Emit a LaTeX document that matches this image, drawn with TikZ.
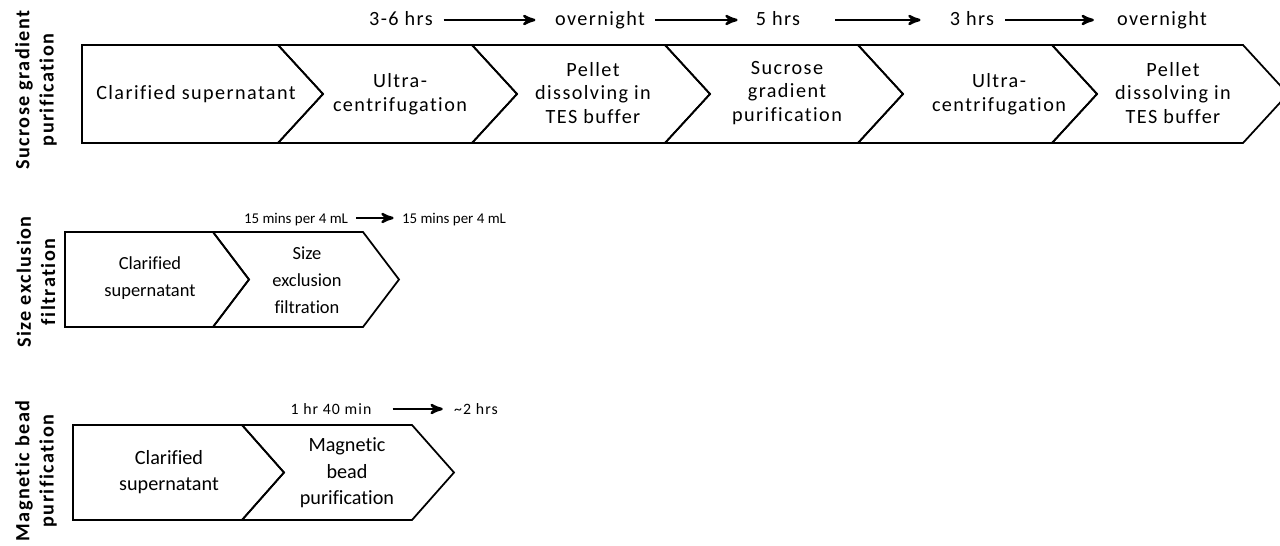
\documentclass[tikz,border=0pt]{standalone}
\usepackage{fontspec}
\setmainfont{Carlito}[LetterSpace=7, Ligatures=CommonOff]
\newfontfamily\tightfont{Carlito}[Ligatures=CommonOff]
\usetikzlibrary{arrows}
\tikzset{
	x=0.02cm, y=-0.02cm,
	>=stealth',
	chev/.style={draw, line width=1pt, line join=miter},
	stage/.style={align=center, font=\fontsize{11.5}{13.5}\selectfont},
	stagetwo/.style={align=center, font=\tightfont\fontsize{10.5}{15.3}\selectfont},
	stagethree/.style={align=center, font=\tightfont\fontsize{11.5}{15}\selectfont},
	side/.style={rotate=90, align=center, font=\fontsize{11.5}{13.7}\selectfont\bfseries},
	time/.style={font=\fontsize{11.5}{13.5}\selectfont, inner sep=2pt, text height=1.5ex, text depth=0.25ex},
	timetwo/.style={time, font=\tightfont\fontsize{8.5}{10}\selectfont},
	timethree/.style={time, font=\fontsize{9}{10}\selectfont},
	flow/.style={->, line width=1.4pt, shorten <=4pt, shorten >=9pt}
}
\begin{document}
\begin{tikzpicture}
	\useasboundingbox (0,0) rectangle (1280,546);

	% side titles
	\node[side] (lab1) at (36,90) {Sucrose gradient\\purification};
	\node[side] (lab2) at (36,282) {Size exclusion\\filtration};
	\node[side] (lab3) at (36,471) {Magnetic bead\\purification};

	% sucrose gradient row
	\draw[chev] (82,45) -- (278,45) -- (323,94) -- (278,143) -- (82,143) -- cycle;
	\foreach \a/\b in {278/472, 472/665, 665/858, 858/1052, 1052/1243}
		\draw[chev] (\a,45) -- (\b,45) -- (\b+45,94) -- (\b,143) -- (\a,143) -- (\a+45,94) -- cycle;

	\node[stage] (sg1) at (196,94) {Clarified supernatant};
	\node[stage] (sg2) at (400,94) {Ultra-\\centrifugation};
	\node[stage] (sg3) at (593,93) {Pellet\\dissolving in\\TES buffer};
	\node[stage] (sg4) at (787,93) {Sucrose\\gradient\\purification};
	\node[stage] (sg5) at (999,94) {Ultra-\\centrifugation};
	\node[stage] (sg6) at (1173,93) {Pellet\\dissolving in\\TES buffer};

	\node[time] (t1) at (401,20) {3-6 hrs};
	\node[time] (t2) at (600,20) {overnight};
	\node[time] (t3) at (778,20) {5 hrs};
	\node[time] (t4) at (972,20) {3 hrs};
	\node[time] (t5) at (1162,20) {overnight};

	\draw[flow] (t1) -- (t2);
	\draw[flow, shorten <=3.7pt, shorten >=8.2pt] (t2) -- (t3);
	\draw[flow, shorten <=17.9pt, shorten >=14.5pt] (t3) -- (t4);
	\draw[flow, shorten >=11pt] (t4) -- (t5);

	% size exclusion row
	\draw[chev] (65,232) -- (213,232) -- (249,279.5) -- (213,327) -- (65,327) -- cycle;
	\draw[chev] (213,232) -- (363,232) -- (399,279.5) -- (363,327) -- (213,327) -- (249,279.5) -- cycle;

	\node[stagetwo] (se1) at (150,278) {Clarified\\supernatant};
	\node[stagetwo] (se2) at (307,280) {Size\\exclusion\\filtration};

	\node[timetwo] (f1) at (296,218) {15 mins per 4 mL};
	\node[timetwo] (f2) at (454,218) {15 mins per 4 mL};
	\draw[flow, shorten <=2.6pt, shorten >=2.6pt] (f1) -- (f2);

	% magnetic bead row
	\draw[chev] (73,425) -- (242,425) -- (284,472.5) -- (242,520) -- (73,520) -- cycle;
	\draw[chev] (242,425) -- (412,425) -- (454,472.5) -- (412,520) -- (242,520) -- (284,472.5) -- cycle;

	\node[stagethree] (mb1) at (169,472) {Clarified\\supernatant};
	\node[stagethree] (mb2) at (347,473) {Magnetic\\bead\\purification};

	\node[timethree] (m1) at (331,409) {1 hr 40 min};
	\node[timethree] (m2) at (476,409) {\textasciitilde2 hrs};
	\draw[flow, shorten <=9.9pt, shorten >=4.3pt] (m1) -- (m2);
\end{tikzpicture}
\end{document}
